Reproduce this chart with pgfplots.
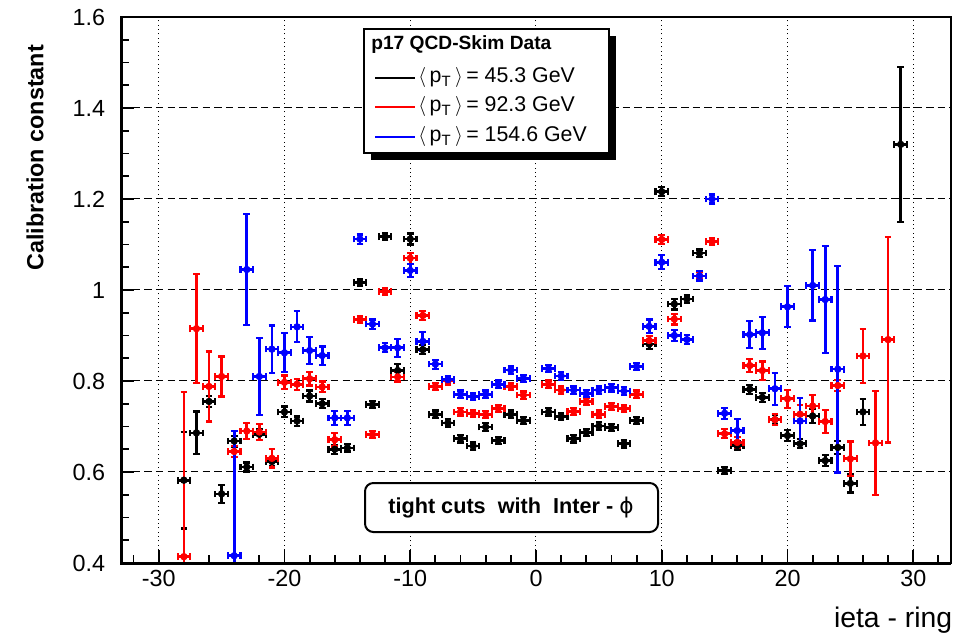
\documentclass[border=0pt]{standalone}
\usepackage{pgfplots}
\usepackage{pgfplotstable}
\pgfplotsset{compat=1.18}
\usepackage{fontspec}
\setmainfont{Liberation Sans}
\newfontfamily\dejavu{DejaVu Sans}

\pgfplotstableread{
x y ex ey
-28 0.582 0.5 0.106
-27 0.686 0.5 0.047
-26 0.755 0.5 0.012
-25 0.552 0.5 0.020
-24 0.668 0.5 0.012
-23 0.611 0.5 0.010
-22 0.683 0.5 0.012
-21 0.623 0.5 0.010
-20 0.732 0.5 0.012
-19 0.712 0.5 0.010
-18 0.767 0.5 0.012
-17 0.750 0.5 0.010
-16 0.650 0.5 0.010
-15 0.653 0.5 0.008
-14 1.017 0.5 0.008
-13 0.748 0.5 0.008
-12 1.117 0.5 0.008
-11 0.823 0.5 0.015
-10 1.112 0.5 0.012
-9 0.869 0.5 0.010
-8 0.727 0.5 0.008
-7 0.708 0.5 0.008
-6 0.673 0.5 0.008
-5 0.657 0.5 0.008
-4 0.699 0.5 0.008
-3 0.669 0.5 0.008
-2 0.727 0.5 0.008
-1 0.713 0.5 0.008
1 0.732 0.5 0.008
2 0.722 0.5 0.008
3 0.673 0.5 0.008
4 0.687 0.5 0.008
5 0.701 0.5 0.008
6 0.698 0.5 0.008
7 0.662 0.5 0.008
8 0.713 0.5 0.008
9 0.881 0.5 0.010
10 1.216 0.5 0.010
11 0.969 0.5 0.012
12 0.980 0.5 0.008
13 1.081 0.5 0.008
15 0.603 0.5 0.008
16 0.658 0.5 0.010
17 0.782 0.5 0.010
18 0.764 0.5 0.010
19 0.715 0.5 0.010
20 0.680 0.5 0.012
21 0.662 0.5 0.010
22 0.723 0.5 0.015
23 0.625 0.5 0.012
24 0.654 0.5 0.015
25 0.575 0.5 0.020
26 0.732 0.5 0.028
29 1.320 0.5 0.170
}\blackdata

\pgfplotstableread{
x y ex ey
-28 0.414 0.5 0.362
-27 0.915 0.5 0.120
-26 0.788 0.5 0.077
-25 0.810 0.5 0.044
-24 0.645 0.5 0.012
-23 0.690 0.5 0.018
-22 0.688 0.5 0.018
-21 0.630 0.5 0.020
-20 0.797 0.5 0.015
-19 0.793 0.5 0.012
-18 0.805 0.5 0.015
-17 0.787 0.5 0.012
-16 0.671 0.5 0.015
-14 0.935 0.5 0.008
-13 0.682 0.5 0.008
-12 0.997 0.5 0.008
-11 0.809 0.5 0.010
-10 1.070 0.5 0.012
-9 0.944 0.5 0.010
-8 0.788 0.5 0.008
-7 0.800 0.5 0.008
-6 0.732 0.5 0.008
-5 0.729 0.5 0.008
-4 0.726 0.5 0.008
-3 0.740 0.5 0.008
-2 0.788 0.5 0.008
-1 0.769 0.5 0.008
1 0.793 0.5 0.008
2 0.780 0.5 0.008
3 0.733 0.5 0.008
4 0.755 0.5 0.008
5 0.727 0.5 0.008
6 0.744 0.5 0.008
7 0.740 0.5 0.008
8 0.771 0.5 0.008
9 0.889 0.5 0.010
10 1.111 0.5 0.010
11 0.936 0.5 0.012
13 1.031 0.5 0.008
14 1.106 0.5 0.008
15 0.684 0.5 0.010
16 0.665 0.5 0.012
17 0.834 0.5 0.015
18 0.823 0.5 0.020
19 0.715 0.5 0.012
20 0.761 0.5 0.020
21 0.727 0.5 0.020
22 0.745 0.5 0.025
23 0.711 0.5 0.025
24 0.790 0.5 0.012
25 0.629 0.5 0.038
26 0.855 0.5 0.060
27 0.664 0.5 0.114
28 0.891 0.5 0.226
}\reddata

\pgfplotstableread{
x y ex ey
-24 0.416 0.5 0.275
-23 1.045 0.5 0.122
-22 0.810 0.5 0.085
-21 0.870 0.5 0.052
-20 0.862 0.5 0.043
-19 0.919 0.5 0.034
-18 0.867 0.5 0.030
-17 0.856 0.5 0.020
-16 0.719 0.5 0.015
-15 0.719 0.5 0.015
-14 1.112 0.5 0.010
-13 0.925 0.5 0.010
-12 0.873 0.5 0.010
-11 0.873 0.5 0.020
-10 1.043 0.5 0.015
-9 0.887 0.5 0.020
-8 0.837 0.5 0.010
-7 0.803 0.5 0.008
-6 0.771 0.5 0.008
-5 0.766 0.5 0.008
-4 0.771 0.5 0.008
-3 0.793 0.5 0.008
-2 0.824 0.5 0.008
-1 0.806 0.5 0.008
1 0.827 0.5 0.008
2 0.811 0.5 0.008
3 0.780 0.5 0.008
4 0.772 0.5 0.008
5 0.780 0.5 0.008
6 0.785 0.5 0.008
7 0.778 0.5 0.008
8 0.832 0.5 0.008
9 0.920 0.5 0.015
10 1.061 0.5 0.015
11 0.900 0.5 0.012
12 0.891 0.5 0.010
13 1.031 0.5 0.010
14 1.200 0.5 0.010
15 0.729 0.5 0.012
16 0.691 0.5 0.025
17 0.902 0.5 0.030
18 0.906 0.5 0.035
19 0.783 0.5 0.035
20 0.963 0.5 0.045
21 0.712 0.5 0.050
22 1.010 0.5 0.077
23 0.979 0.5 0.118
24 0.826 0.5 0.227
}\bluedata

\pgfplotsset{
  errstyle/.style={
    #1, only marks, mark=none,
    every mark/.style={#1},
    error bars/.cd,
      x dir=both, x explicit, y dir=both, y explicit,
      error bar style={line width=1.6pt, #1},
      error mark options={rotate=90, line width=1.3pt, mark size=2pt, #1},
  },
}

\begin{document}
\begin{tikzpicture}
\begin{scope}[x=0.6pt, y=-0.6pt, shift={(-72.6pt,337.8pt)}]
  \useasboundingbox (0,0) rectangle (961,635);
\end{scope}

\begin{axis}[
  at={(0pt,0pt)}, anchor=south west,
  scale only axis, width=498pt, height=327.6pt,
  xmin=-33, xmax=33, ymin=0.4, ymax=1.6,
  xtick={-30,-20,...,30},
  ytick={0.4,0.6,0.8,1,1.2,1.4,1.6},
  minor xtick={-32,-28,-26,-24,-22,-18,-16,-14,-12,-8,-6,-4,-2,2,4,6,8,12,14,16,18,22,24,26,28,32},
  minor ytick={0.45,0.5,0.55,0.65,0.7,0.75,0.85,0.9,0.95,1.05,1.1,1.15,1.25,1.3,1.35,1.45,1.5,1.55},
  tick pos=left, tick align=inside,
  major tick length=8pt, minor tick length=5pt,
  every tick/.style={black, line width=1.1pt},
  xmajorgrids, ymajorgrids,
  x grid style={black, line width=0.6pt, dotted},
  y grid style={black, line width=0.6pt, dash pattern=on 4.5pt off 2.5pt},
  axis line style={black, line width=0.9pt},
  /pgf/number format/assume math mode=true,
  ticklabel style={font=\fontsize{14}{14}\selectfont},
  yticklabel style={xshift=-6pt},
  xticklabel style={yshift=-1pt},
]
\addplot[errstyle=black] table[x=x, y=y, x error=ex, y error=ey] {\blackdata};
\addplot[errstyle=red] table[x=x, y=y, x error=ex, y error=ey] {\reddata};
\addplot[errstyle=blue] table[x=x, y=y, x error=ex, y error=ey] {\bluedata};
\end{axis}

\begin{scope}[x=0.6pt, y=-0.6pt, shift={(-72.6pt,337.8pt)}]
  % thick left and bottom axis lines
  \draw[black, line width=1.8pt] (121,17) -- (121,563) -- (951,563);
  % legend
  \fill[black] (371,36) rectangle (616,160);
  \filldraw[fill=white, draw=black, line width=0.9pt] (364,29) rectangle (609,153);
  \node[anchor=west, inner sep=0pt, font=\bfseries\fontsize{11.5}{12}\selectfont] at (371,45) {p17 QCD-Skim Data};
  \draw[black, line width=1.5pt] (375,78) -- (415,78);
  \draw[red, line width=1.5pt] (375,107) -- (415,107);
  \draw[blue, line width=1.5pt] (375,137) -- (415,137);
  \node[anchor=west, inner sep=0pt, font=\fontsize{12.8}{12.8}\selectfont] at (418,78) {$\langle$\,p\textsubscript{T}\,$\rangle$\,= 45.3 GeV};
  \node[anchor=west, inner sep=0pt, font=\fontsize{12.8}{12.8}\selectfont] at (418,107) {$\langle$\,p\textsubscript{T}\,$\rangle$\,= 92.3 GeV};
  \node[anchor=west, inner sep=0pt, font=\fontsize{12.8}{12.8}\selectfont] at (418,137) {$\langle$\,p\textsubscript{T}\,$\rangle$\,= 154.6 GeV};
  % text box
  \filldraw[fill=white, draw=black, rounded corners=5pt, line width=1.2pt] (365,483) rectangle (658,532);
  \node[font=\bfseries\fontsize{13}{13}\selectfont] at (511,508) {tight cuts\ \ with\ \ Inter - {\mdseries\dejavu ϕ}};
  % axis titles
  \node[rotate=90, font=\bfseries\fontsize{14}{14}\selectfont] at (35,158) {Calibration constant};
  \node[anchor=east, font=\fontsize{17}{17}\selectfont] at (958,620) {ieta - ring};
\end{scope}
\end{tikzpicture}
\end{document}
